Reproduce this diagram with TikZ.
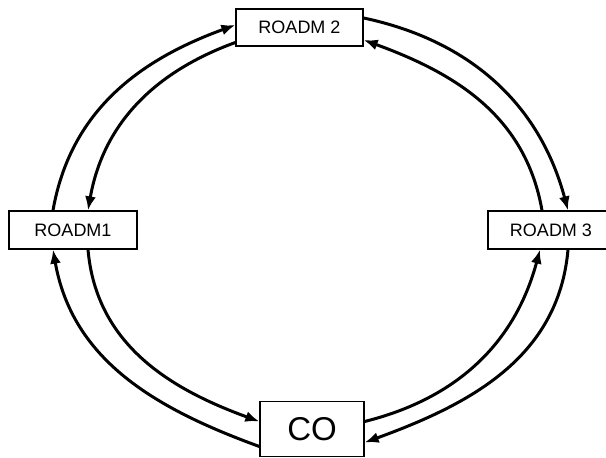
\documentclass[tikz,border=0pt]{standalone}
\usepackage{fontspec}
\setmainfont{Liberation Sans}
\usetikzlibrary{arrows.meta}

\tikzset{
  box/.style={draw, line width=1.3pt, fill=white, inner sep=0pt},
  small/.style={font=\fontsize{18}{18}\selectfont},
  link/.style={line width=3pt, -{Latex[length=14pt,width=11pt]}},
}

\begin{document}
\begin{tikzpicture}[x=1pt,y=1pt]
  \useasboundingbox (0,0) rectangle (606,458);
  % the four nodes of the ring
  \node[box, small, minimum width=127pt, minimum height=37pt] (r2) at (299.5,430.5) {ROADM 2};
  \node[box, small, minimum width=128pt, minimum height=38pt] (r1) at (73,228) {ROADM1};
  \node[box, small, minimum width=126pt, minimum height=38pt] (r3) at (551,228) {ROADM 3};
  \node[box, font=\fontsize{33}{33}\selectfont, minimum width=104pt, minimum height=55pt] (co) at (312,29) {CO};
  % outer ring, clockwise
  \draw[link] ([yshift=-17.5pt]co.west) to[out=160,in=280] ([xshift=-20pt]r1.south);
  \draw[link] ([xshift=-20pt]r1.north) to[out=80,in=200] ([yshift=2.5pt]r2.west);
  \draw[link] ([yshift=9.5pt]r2.east) to[out=348,in=105] ([xshift=17pt]r3.north);
  \draw[link] ([xshift=17pt]r3.south) to[out=265,in=20] ([yshift=-13.5pt]co.east);
  % inner ring, counter-clockwise
  \draw[link] ([yshift=-15pt]r2.west) to[out=200,in=80] ([xshift=15pt]r1.north);
  \draw[link] ([xshift=15pt]r1.south) to[out=275,in=160] ([yshift=7.5pt]co.west);
  \draw[link] ([yshift=7.5pt]co.east) to[out=14,in=255] ([xshift=-11pt]r3.south);
  \draw[link] ([xshift=-9pt]r3.north) to[out=100,in=340] ([yshift=-12.5pt]r2.east);
\end{tikzpicture}
\end{document}
